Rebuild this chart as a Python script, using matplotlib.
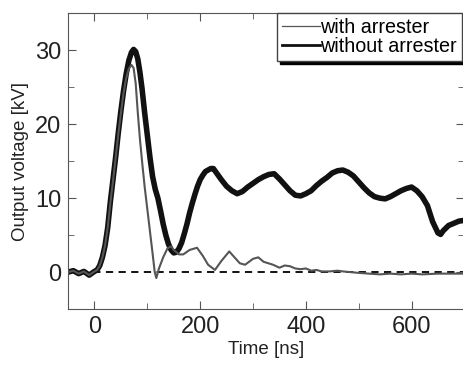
import matplotlib.pyplot as plt
from matplotlib.lines import Line2D
from matplotlib.ticker import MultipleLocator

plt.rcParams["font.family"] = ["Liberation Sans", "DejaVu Sans"]

# time axis [ns] and voltages [kV]
t_without = [-50, -40, -30, -20, -10, 0, 5, 10, 15, 20, 25, 30, 35, 40, 45,
             50, 55, 60, 65, 70, 74, 78, 82, 86, 90, 95, 100, 105, 110, 115,
             120, 125, 130, 135, 140, 145, 150, 155, 160, 165, 170, 175, 180,
             185, 190, 195, 200, 205, 210, 215, 220, 225, 230, 240, 250, 260,
             270, 280, 290, 300, 310, 320, 330, 340, 350, 360, 370, 380, 390,
             400, 410, 420, 430, 440, 450, 460, 470, 480, 490, 500, 510, 520,
             530, 540, 550, 560, 570, 580, 590, 600, 610, 620, 630, 640, 650,
             655, 660, 670, 680, 690, 700]
v_without = [0.0, 0.2, -0.2, 0.1, -0.4, 0.1, 0.3, 0.9, 2.0, 3.6, 6.0, 9.5,
             12.5, 15.5, 18.8, 21.8, 24.5, 26.8, 28.6, 29.7, 30.1, 29.8, 28.8,
             27.0, 24.8, 21.5, 18.5, 15.5, 12.9, 11.2, 10.0, 8.3, 6.5, 5.0,
             3.8, 3.0, 2.6, 2.7, 3.2, 4.0, 5.2, 6.5, 8.0, 9.3, 10.5, 11.6,
             12.5, 13.1, 13.6, 13.8, 14.0, 14.0, 13.5, 12.5, 11.6, 11.0, 10.6,
             10.9, 11.5, 12.0, 12.5, 12.9, 13.2, 13.3, 12.6, 11.8, 11.0, 10.4,
             10.3, 10.6, 11.0, 11.7, 12.3, 12.8, 13.4, 13.7, 13.8, 13.5, 13.0,
             12.2, 11.4, 10.7, 10.2, 10.0, 9.9, 10.2, 10.6, 11.0, 11.3, 11.5,
             11.0, 10.2, 9.0, 6.8, 5.3, 5.1, 5.6, 6.3, 6.6, 6.9, 7.0]

t_with = [-50, -40, -30, -20, -10, 0, 5, 10, 15, 20, 25, 30, 35, 40, 45, 50,
          55, 60, 65, 70, 74, 78, 82, 86, 90, 95, 100, 105, 110, 114, 117,
          122, 130, 138, 145, 150, 160, 168, 180, 194, 205, 215, 228, 240,
          255, 265, 275, 285, 300, 310, 320, 338, 350, 360, 370, 380, 390,
          400, 410, 420, 430, 445, 460, 470, 485, 500, 520, 540, 560, 580,
          600, 620, 650, 675, 700]
v_with = [0.0, 0.2, -0.2, 0.1, -0.4, 0.1, 0.3, 0.9, 2.0, 3.6, 6.0, 9.3, 12.3,
          15.4, 18.6, 21.5, 24.2, 26.2, 27.5, 28.0, 27.6, 25.5, 21.5, 18.0,
          15.0, 11.5, 8.5, 5.5, 2.5, 0.0, -0.8, 0.5, 2.0, 3.2, 3.5, 3.0, 2.4,
          2.4, 3.0, 3.3, 2.2, 1.0, 0.3, 1.5, 2.8, 2.0, 1.2, 1.0, 1.8, 2.0,
          1.4, 1.0, 0.6, 0.9, 0.8, 0.5, 0.4, 0.5, 0.2, 0.3, 0.1, 0.1, 0.2,
          0.1, 0.0, -0.1, -0.2, -0.3, -0.2, -0.3, -0.2, -0.3, -0.2, -0.2,
          -0.2]

x_ticks = [0, 200, 400, 600]
y_ticks = [0, 10, 20, 30]
labels = ["with arrester", "without arrester"]

fig = plt.figure(figsize=(4.63, 3.65), dpi=100)
ax = fig.add_axes([0.147, 0.153, 0.856, 0.811])

ax.axhline(0, color="black", lw=1.3, ls=(0, (4, 3)), zorder=1)
ax.plot(t_without, v_without, color="#111111", lw=4.0,
        solid_joinstyle="round", zorder=2)
ax.plot(t_with, v_with, color="#555555", lw=1.5, zorder=3)

ax.set_xlim(-50, 700)
ax.set_ylim(-5, 35)
ax.set_xticks(x_ticks)
ax.set_yticks(y_ticks)
ax.xaxis.set_minor_locator(MultipleLocator(100))
ax.yaxis.set_minor_locator(MultipleLocator(5))
ax.tick_params(which="both", direction="in", top=True, right=True,
               color="#555555", labelsize=17, labelcolor="#222222")
ax.tick_params(which="major", length=6, pad=5)
ax.tick_params(which="minor", length=4)
for s in ax.spines.values():
    s.set_color("#555555")

ax.set_xlabel("Time [ns]", fontsize=13.5, color="#222222", labelpad=2)
ax.set_ylabel("Output voltage [kV]", fontsize=13.5, color="#222222",
              labelpad=4)

# legend handles drawn a bit thinner than the traces
handles = [Line2D([], [], color="#555555", lw=0.9),
           Line2D([], [], color="#111111", lw=2.0)]
leg = ax.legend(handles, labels, loc="upper right",
                bbox_to_anchor=(0.9935, 1.0), borderaxespad=0, fontsize=14.2,
                handlelength=1.95, handletextpad=0.0, labelspacing=0.0,
                borderpad=0.25, fancybox=False,
                shadow={"color": "black", "alpha": 1})
leg.get_frame().set_edgecolor("#444444")
leg.get_frame().set_linewidth(1.0)
leg.set_zorder(5)

fig.savefig("out.png", dpi=100)
